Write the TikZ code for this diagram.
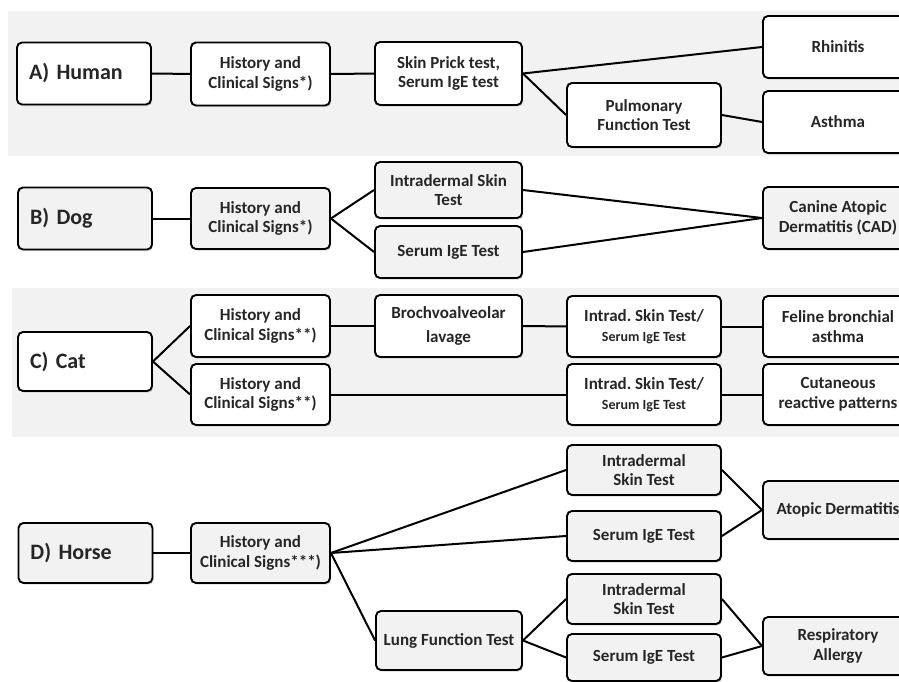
\documentclass[tikz,border=0pt]{standalone}
\usepackage{fontspec}
\setmainfont{Carlito}
\usetikzlibrary{shadows}
\frenchspacing

\newcommand{\subline}[1]{{\fontsize{14}{16}\selectfont #1}}

\tikzset{
	box/.style={draw, rounded corners=5pt, line width=1.9pt, align=center,
		inner sep=2pt, text=black!85, font=\bfseries\fontsize{17}{19.5}\selectfont,
		drop shadow={shadow xshift=1.2pt, shadow yshift=-1.6pt, opacity=0.3}},
	wbox/.style={box, fill=white},
	gbox/.style={box, fill=black!5},
	animal/.style={align=left, inner xsep=12pt, text width=110pt,
		minimum height=62pt, font=\bfseries\fontsize{22}{26}\selectfont},
	hist/.style={minimum width=139pt, minimum height=61pt},
	test/.style={minimum width=147pt, minimum height=62pt},
	exam/.style={minimum width=154pt, minimum height=61pt},
	result/.style={minimum width=150pt, minimum height=62pt},
	link/.style={line width=2pt},
	panel/.style={fill=black!5},
}

\begin{document}
\begin{tikzpicture}[x=1pt, y=-1pt]
	\useasboundingbox (0,0) rectangle (899,682);
	\clip (0,0) rectangle (899,682);

	\fill[panel] (8,11) rectangle (899,156);
	\fill[panel] (12,288) rectangle (899,437);

	% A) human
	\node[wbox, animal] (human) at (84,73.5) {A) Human};
	\node[wbox, hist, minimum height=63pt] (histA) at (260.5,74) {History and\\ Clinical Signs*)};
	\node[wbox, test, minimum height=63pt] (skinA) at (448.5,73.5) {Skin Prick test,\\ Serum IgE test};
	\node[wbox, exam, minimum height=64pt] (pulmA) at (644,115) {Pulmonary\\ Function Test};
	\node[wbox, result] (rhinitis) at (838,47) {Rhinitis};
	\node[wbox, result] (asthma) at (838,122) {Asthma};

	\draw[link] (human) to (histA);
	\draw[link] (histA) to (skinA);
	\draw[link] (skinA.east) to (rhinitis.west);
	\draw[link] (skinA.east) to (pulmA.west);
	\draw[link] (pulmA.east) to (asthma.west);

	% B) dog
	\node[gbox, animal] (dog) at (85,218.5) {B) Dog};
	\node[gbox, hist] (histB) at (260.5,218.5) {History and\\ Clinical Signs*)};
	\node[gbox, test, minimum height=56pt] (intraB) at (448.5,190) {Intradermal Skin\\ Test};
	\node[gbox, test, minimum height=52pt] (serumB) at (448.5,252) {Serum IgE Test};
	\node[gbox, result] (cad) at (838,218) {Canine Atopic\\ Dermatitis (CAD)};

	\draw[link] (dog) to (histB);
	\draw[link] (histB.east) to (intraB.west);
	\draw[link] (histB.east) to (serumB.west);
	\draw[link] (intraB.east) to (cad.west);
	\draw[link] (serumB.east) to (cad.west);

	% C) cat
	\node[wbox, animal, minimum height=59pt] (cat) at (85,361.5) {C) Cat};
	\node[wbox, hist, minimum height=62pt] (histC1) at (260.5,326) {History and\\ Clinical Signs**)};
	\node[wbox, hist] (histC2) at (260.5,394.5) {History and\\ Clinical Signs**)};
	\node[wbox, test] (bal) at (448.5,326) {Brochvoalveolar\\[5pt] lavage};
	\node[wbox, exam] (intraC1) at (644,326.5) {Intrad. Skin Test/\\ \subline{Serum IgE Test}};
	\node[wbox, exam] (intraC2) at (644,394.5) {Intrad. Skin Test/\\ \subline{Serum IgE Test}};
	\node[wbox, result, minimum height=61pt] (feline) at (838,326.5) {Feline bronchial\\ asthma};
	\node[wbox, result, minimum height=61pt] (cutan) at (838,394.5) {Cutaneous\\ reactive patterns};

	\draw[link] (cat.east) to (histC1.west);
	\draw[link] (cat.east) to (histC2.west);
	\draw[link] (histC1) to (bal);
	\draw[link] (bal) to (intraC1);
	\draw[link] (intraC1) to (feline);
	\draw[link] (histC2) to (intraC2);
	\draw[link] (intraC2) to (cutan);

	% D) horse
	\node[gbox, animal, minimum height=60pt] (horse) at (85.5,553) {D) Horse};
	\node[gbox, hist, minimum height=60pt] (histD) at (260.5,553) {History and\\ Clinical Signs***)};
	\node[gbox, test, minimum width=146pt, minimum height=59pt] (lung) at (449,640.5) {Lung Function Test};
	\node[gbox, exam, minimum height=50pt] (intraD1) at (644,470) {Intradermal\\ Skin Test};
	\node[gbox, exam, minimum height=50pt] (serumD1) at (644,536) {Serum IgE Test};
	\node[gbox, exam, minimum height=50pt] (intraD2) at (644,599) {Intradermal\\ Skin Test};
	\node[gbox, exam, minimum height=47pt] (serumD2) at (644,657.5) {Serum IgE Test};
	\node[gbox, result, minimum height=58pt] (atopic) at (838,510) {Atopic Dermatitis};
	\node[gbox, result, minimum height=58pt] (resp) at (838,646) {Respiratory\\ Allergy};

	\draw[link] (horse) to (histD);
	\draw[link] (histD.east) to (intraD1.west);
	\draw[link] (histD.east) to (serumD1.west);
	\draw[link] (histD.east) to (lung.west);
	\draw[link] (lung.east) to (intraD2.west);
	\draw[link] (lung.east) to (serumD2.west);
	\draw[link] (intraD1.east) to (atopic.west);
	\draw[link] (serumD1.east) to (atopic.west);
	\draw[link] (intraD2.east) to (resp.west);
	\draw[link] (serumD2.east) to (resp.west);
\end{tikzpicture}
\end{document}
